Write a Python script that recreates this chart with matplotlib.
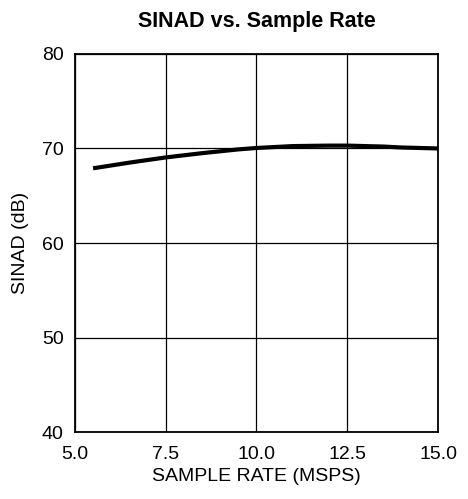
import matplotlib
matplotlib.use("Agg")
import matplotlib.pyplot as plt

plt.rcParams['font.family'] = ['Liberation Sans', 'DejaVu Sans']

sample_rate = [5.5, 6.5, 7.5, 8.5, 9.5, 10.0, 11.0, 12.0, 12.5, 13.5, 14.0, 15.0]
sinad = [67.9, 68.5, 69.05, 69.5, 69.9, 70.05, 70.25, 70.3, 70.3, 70.2, 70.1, 70.0]

x_ticks = [5.0, 7.5, 10.0, 12.5, 15.0]
x_tick_labels = ["5.0", "7.5", "10.0", "12.5", "15.0"]
y_ticks = [40, 50, 60, 70, 80]

fig = plt.figure(figsize=(4.68, 4.99), dpi=100)
ax = fig.add_axes([0.160, 0.134, 0.776, 0.758])
ax.plot(sample_rate, sinad, color='black', linewidth=3.0, solid_capstyle='butt', zorder=3)
ax.set_xlim(5, 15)
ax.set_ylim(40, 80)
ax.set_xticks(x_ticks)
ax.set_xticklabels(x_tick_labels)
ax.set_yticks(y_ticks)
ax.grid(True, color='black', linewidth=0.9)
ax.tick_params(length=0, labelsize=14, colors='black')
ax.tick_params(axis='x', pad=10)
ax.tick_params(axis='y', pad=8)
for s in ax.spines.values():
    s.set_linewidth(1.3)
    s.set_color('black')
ax.set_xlabel("SAMPLE RATE (MSPS)", fontsize=14, labelpad=3.5)
ax.set_ylabel("SINAD (dB)", fontsize=14, labelpad=9)
ax.set_title("SINAD vs. Sample Rate", fontsize=15.5, fontweight='bold', pad=19.5)
fig.savefig("out.png", dpi=100)
